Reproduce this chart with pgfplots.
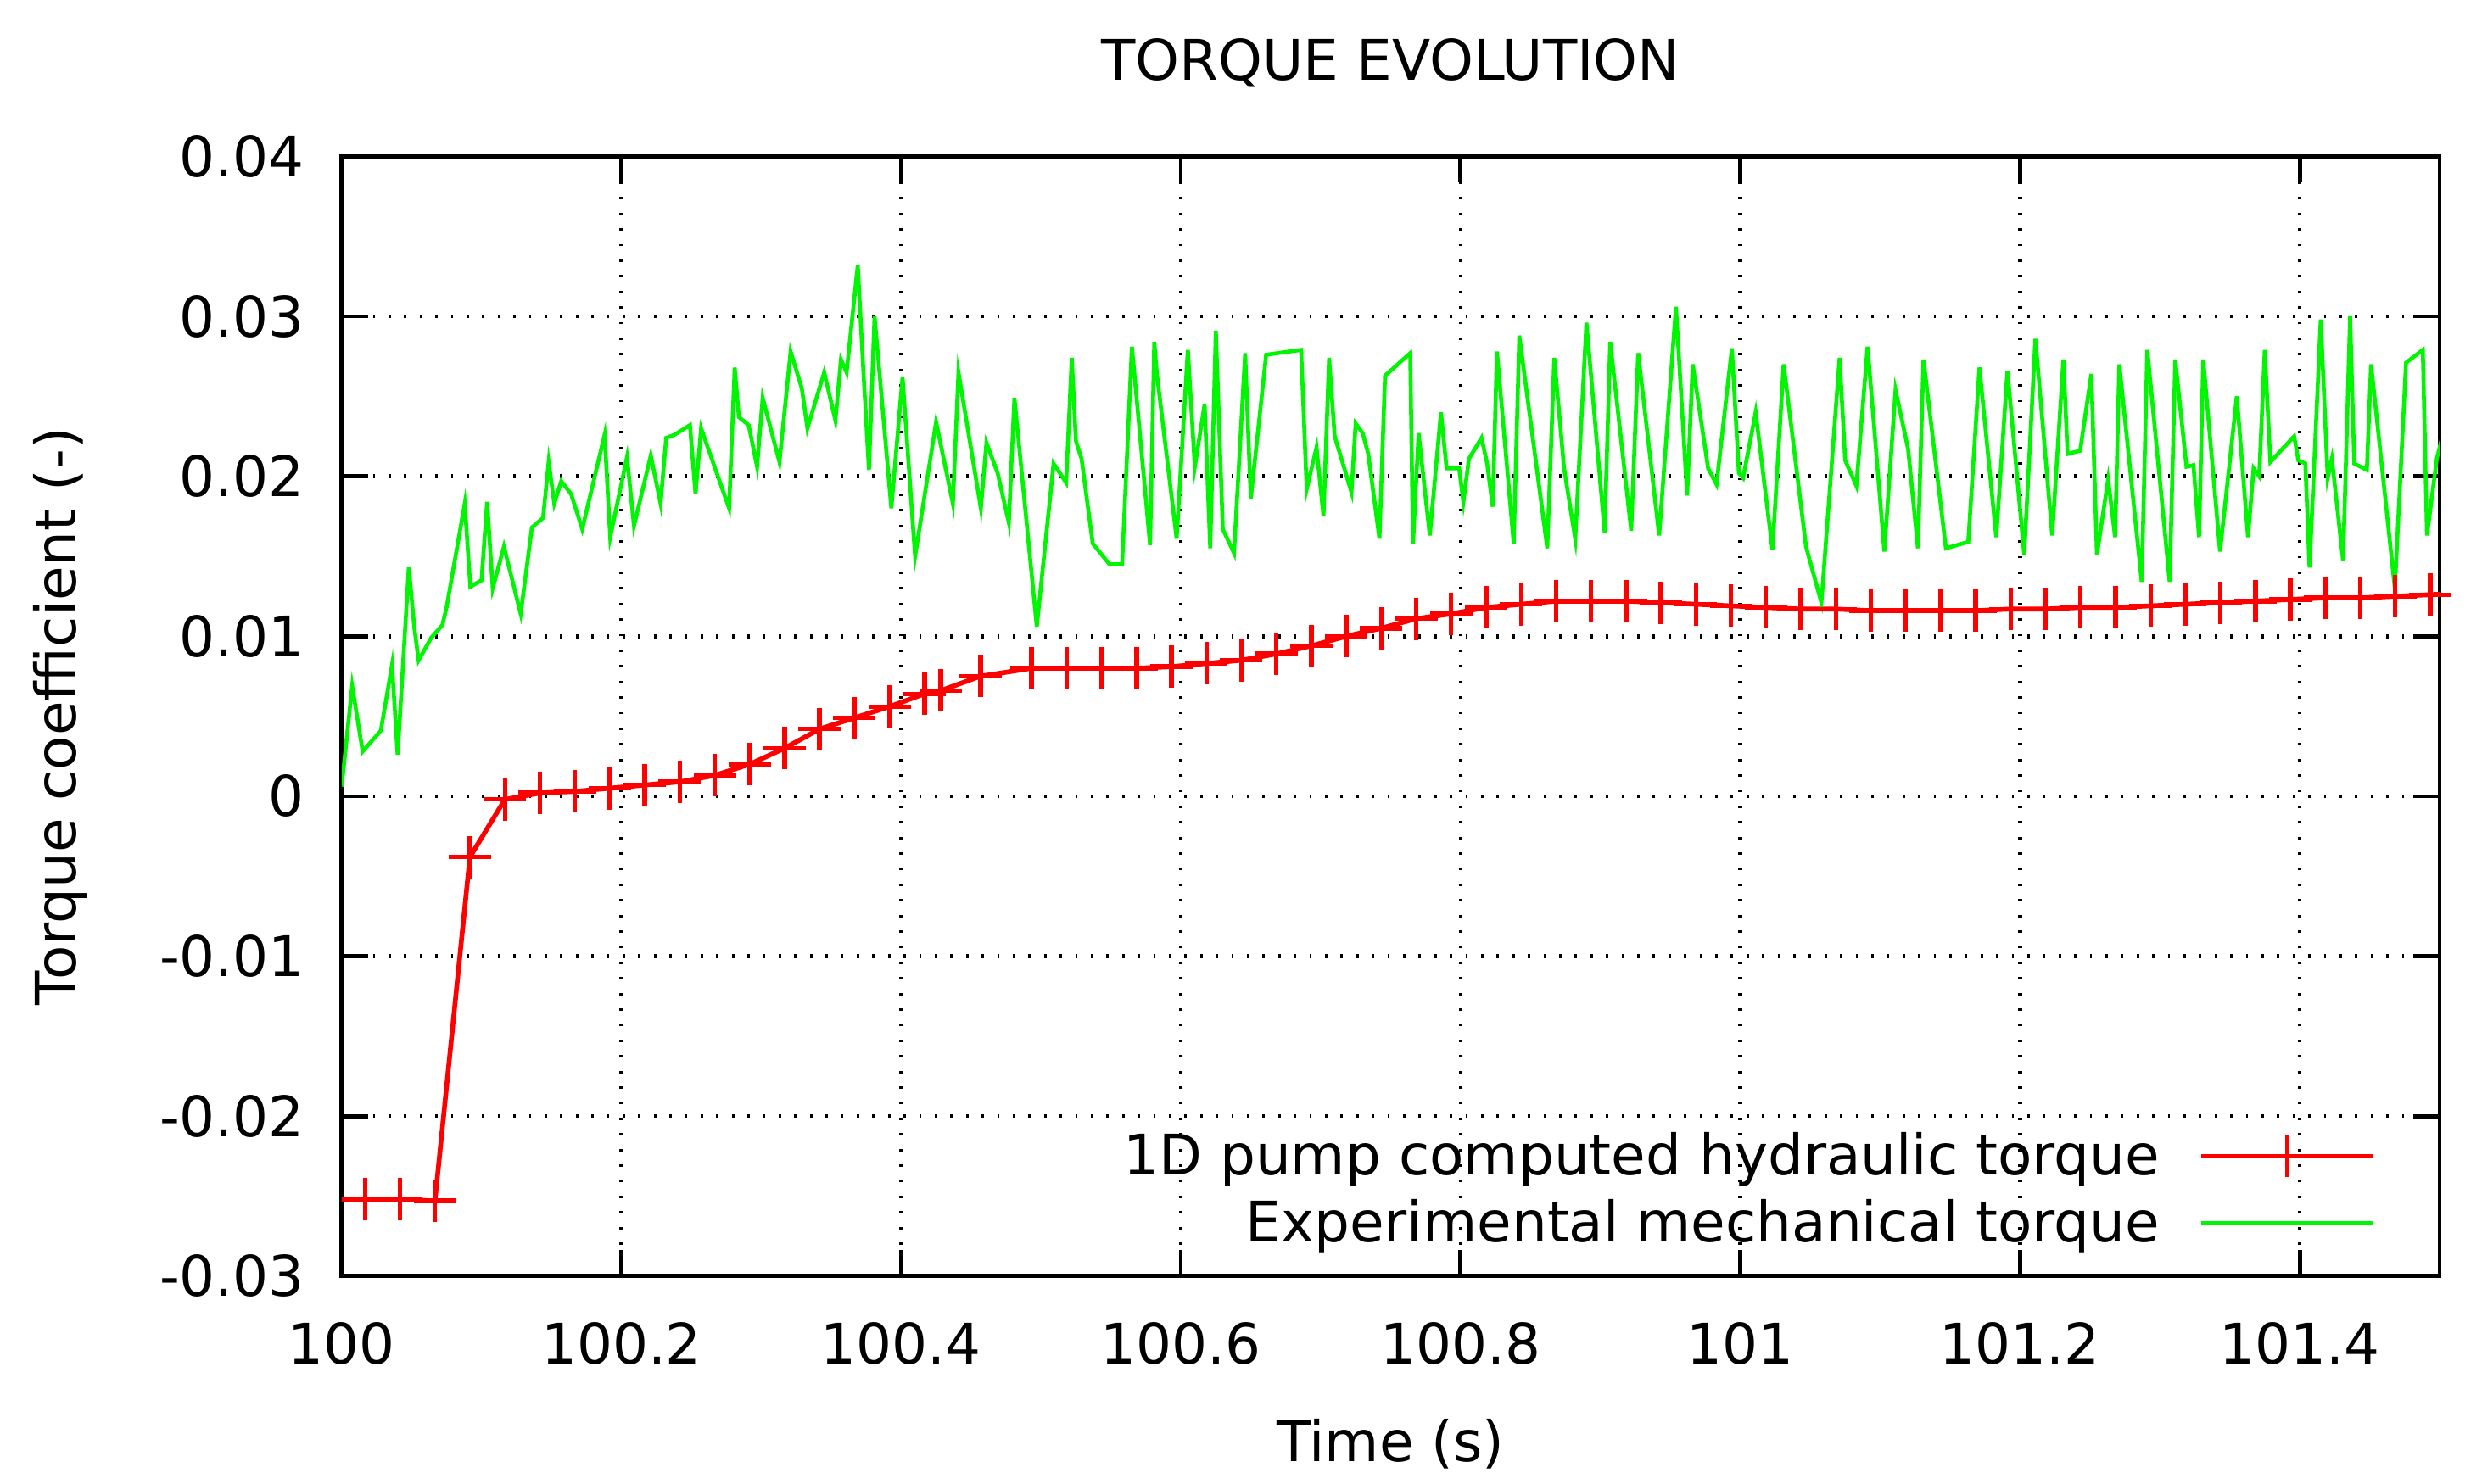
\documentclass[border=0pt]{standalone}
\usepackage{fontspec}
\setmainfont{DejaVu Sans}
\usepackage{pgfplots}
\pgfplotsset{compat=1.18}

\definecolor{gpred}{RGB}{255,0,0}
\definecolor{gpgreen}{RGB}{0,245,0}

\begin{document}
\fontsize{16.5}{19.8}\selectfont
\begin{tikzpicture}
% page size of the gnuplot picture (4 px per pt)
\useasboundingbox (-100.7pt,-61.25pt) rectangle (630.8pt,376.2pt);
\begin{axis}[
  scale only axis, width=618.3pt, height=330.1pt,
  xmin=100, xmax=101.5, ymin=-0.03, ymax=0.04,
  scaled x ticks=false, scaled y ticks=false,
  xtick={100,100.2,100.4,100.6,100.8,101,101.2,101.4},
  xticklabels={100,100.2,100.4,100.6,100.8,101,101.2,101.4},
  ytick={-0.03,-0.02,-0.01,0,0.01,0.02,0.03,0.04},
  yticklabels={-0.03,-0.02,-0.01,0,0.01,0.02,0.03,0.04},
  tick align=inside, major tick length=7.75pt,
  tick style={black, line width=1.2pt},
  axis line style={line width=1.2pt},
  grid=major,
  grid style={black, line width=1.15pt, dash pattern=on 0.7pt off 3.9pt},
  xticklabel style={yshift=-8pt},
  yticklabel style={xshift=-5.3pt},
  title={TORQUE EVOLUTION},
  every axis title shift=0pt,
  title style={at={(axis description cs:0.5,1.0682)}, anchor=base, inner sep=0pt},
  xlabel={Time (s)},
  xlabel style={at={(axis description cs:0.5,-0.1659)}, anchor=base, inner sep=0pt},
  ylabel={Torque coefficient (-)},
  ylabel style={at={(axis description cs:-0.1265,0.5)}, anchor=base, rotate=0, inner sep=0pt},
  legend plot pos=right,
  legend cell align=right,
  legend style={draw=none, fill=none, at={(rel axis cs:0.9698,0.0186)}, anchor=south east,
    inner sep=0pt, row sep=4pt, column sep=11.5pt,
    nodes={inner sep=0pt, text height=12pt, text depth=3.75pt}},
  legend image code/.code={
    \draw[mark repeat=2, mark phase=2, #1] plot coordinates {(0pt,1.4pt) (25.375pt,1.4pt) (50.75pt,1.4pt)};
  },
]

% 1D pump computed hydraulic torque
\addplot[color=gpred, line width=1.4pt, mark=+, mark size=6.25pt,
  mark options={line width=1.35pt}] coordinates {
(99.9917,-0.0252) (100.0167,-0.0252) (100.0417,-0.0252) (100.0667,-0.0253)
(100.0917,-0.0038) (100.1167,-0.0002) (100.1417,0.0002) (100.1667,0.0003)
(100.1917,0.0005) (100.2167,0.0007) (100.2417,0.0009) (100.2667,0.0013)
(100.2917,0.0020) (100.3167,0.0030) (100.3417,0.0042) (100.3667,0.0049)
(100.3917,0.0056) (100.4167,0.0064) (100.4283,0.0066) (100.4567,0.0075)
(100.4933,0.0080) (100.5183,0.0080) (100.5433,0.0080) (100.5683,0.0080)
(100.5933,0.0081) (100.6183,0.0083) (100.6433,0.0085) (100.6683,0.0089)
(100.6933,0.0094) (100.7183,0.0100) (100.7433,0.0105) (100.7683,0.0111)
(100.7933,0.0114) (100.8183,0.0118) (100.8433,0.0120) (100.8683,0.0122)
(100.8933,0.0122) (100.9183,0.0122) (100.9433,0.0121) (100.9683,0.0120)
(100.9933,0.0119) (101.0183,0.0118) (101.0433,0.0117) (101.0683,0.0117)
(101.0933,0.0116) (101.1183,0.0116) (101.1433,0.0116) (101.1683,0.0116)
(101.1933,0.0117) (101.2183,0.0117) (101.2433,0.0118) (101.2683,0.0118)
(101.2933,0.0119) (101.3183,0.0120) (101.3433,0.0121) (101.3683,0.0122)
(101.3933,0.0123) (101.4183,0.0124) (101.4433,0.0124) (101.4683,0.0125)
(101.4933,0.0126) (101.5183,0.0127)
};
\addlegendentry{1D pump computed hydraulic torque}

% Experimental mechanical torque
\addplot[color=gpgreen, line width=1.15pt, mark=none] coordinates {
(100.000,0.0006) (100.0075,0.0069) (100.015,0.0028) (100.028,0.0041)
(100.036,0.0082) (100.040,0.0026) (100.048,0.0143) (100.052,0.0105)
(100.055,0.0085) (100.064,0.0099) (100.072,0.0107) (100.075,0.0118)
(100.088,0.0183) (100.092,0.0131) (100.100,0.0135) (100.104,0.0184)
(100.108,0.0130) (100.116,0.0156) (100.128,0.0114) (100.136,0.0168)
(100.144,0.0174) (100.148,0.0209) (100.152,0.0183) (100.157,0.0197)
(100.164,0.0189) (100.172,0.0167) (100.188,0.0226) (100.192,0.0162)
(100.204,0.0212) (100.209,0.0169) (100.221,0.0213) (100.228,0.0183)
(100.232,0.0224) (100.238,0.0226) (100.249,0.0232) (100.253,0.0189)
(100.257,0.0230) (100.277,0.0180) (100.281,0.0268) (100.284,0.0237)
(100.291,0.0232) (100.297,0.0206) (100.301,0.0249) (100.313,0.0209)
(100.321,0.0278) (100.329,0.0255) (100.333,0.0230) (100.345,0.0265)
(100.353,0.0235) (100.357,0.0273) (100.361,0.0265) (100.369,0.0332)
(100.373,0.0266) (100.377,0.0204) (100.381,0.0300) (100.393,0.0180)
(100.401,0.0262) (100.410,0.0150) (100.425,0.0234) (100.437,0.0183)
(100.441,0.0265) (100.457,0.0180) (100.461,0.0221) (100.469,0.0202)
(100.477,0.0171) (100.481,0.0249) (100.497,0.0106) (100.509,0.0208)
(100.518,0.0196) (100.522,0.0274) (100.525,0.0222) (100.529,0.0211)
(100.537,0.0158) (100.549,0.0145) (100.558,0.0145) (100.565,0.0281)
(100.578,0.0157) (100.581,0.0284) (100.583,0.0263) (100.597,0.0161)
(100.605,0.0279) (100.610,0.0206) (100.617,0.0245) (100.621,0.0155)
(100.625,0.0291) (100.630,0.0167) (100.638,0.0152) (100.646,0.0277)
(100.650,0.0186) (100.661,0.0276) (100.686,0.0279) (100.690,0.0192)
(100.697,0.0218) (100.702,0.0175) (100.706,0.0274) (100.710,0.0225)
(100.722,0.0190) (100.725,0.0233) (100.730,0.0227) (100.734,0.0214)
(100.742,0.0161) (100.746,0.0263) (100.750,0.0266) (100.764,0.0277)
(100.766,0.0158) (100.770,0.0227) (100.778,0.0163) (100.786,0.0240)
(100.790,0.0205) (100.799,0.0205) (100.802,0.0184) (100.806,0.0211)
(100.815,0.0224) (100.819,0.0208) (100.823,0.0181) (100.826,0.0278)
(100.838,0.0158) (100.842,0.0288) (100.862,0.0155) (100.867,0.0274)
(100.874,0.0205) (100.882,0.0161) (100.890,0.0296) (100.903,0.0165)
(100.907,0.0284) (100.922,0.0166) (100.927,0.0277) (100.942,0.0163)
(100.954,0.0306) (100.962,0.0188) (100.966,0.0270) (100.977,0.0205)
(100.983,0.0195) (100.994,0.0280) (100.999,0.0202) (101.002,0.0199)
(101.011,0.0240) (101.023,0.0154) (101.031,0.0270) (101.047,0.0156)
(101.058,0.0121) (101.071,0.0274) (101.075,0.0210) (101.083,0.0194)
(101.091,0.0281) (101.103,0.0153) (101.111,0.0254) (101.120,0.0217)
(101.127,0.0155) (101.131,0.0273) (101.147,0.0155) (101.163,0.0159)
(101.171,0.0268) (101.183,0.0162) (101.191,0.0266) (101.203,0.0151)
(101.211,0.0286) (101.223,0.0163) (101.231,0.0273) (101.234,0.0214)
(101.243,0.0216) (101.251,0.0264) (101.255,0.0151) (101.263,0.0198)
(101.268,0.0162) (101.271,0.0270) (101.287,0.0134) (101.291,0.0279)
(101.307,0.0134) (101.311,0.0273) (101.319,0.0206) (101.324,0.0207)
(101.328,0.0162) (101.331,0.0273) (101.343,0.0153) (101.355,0.0250)
(101.363,0.0162) (101.367,0.0205) (101.371,0.0200) (101.375,0.0279)
(101.379,0.0209) (101.396,0.0225) (101.399,0.0210) (101.404,0.0208)
(101.407,0.0143) (101.415,0.0298) (101.420,0.0199) (101.423,0.0211)
(101.431,0.0147) (101.436,0.0300) (101.439,0.0208) (101.448,0.0204)
(101.451,0.0270) (101.468,0.0130) (101.476,0.0271) (101.488,0.0279)
(101.491,0.0163) (101.498,0.0211) (101.502,0.0225)
};
\addlegendentry{Experimental mechanical torque}

\end{axis}
\end{tikzpicture}
\end{document}
